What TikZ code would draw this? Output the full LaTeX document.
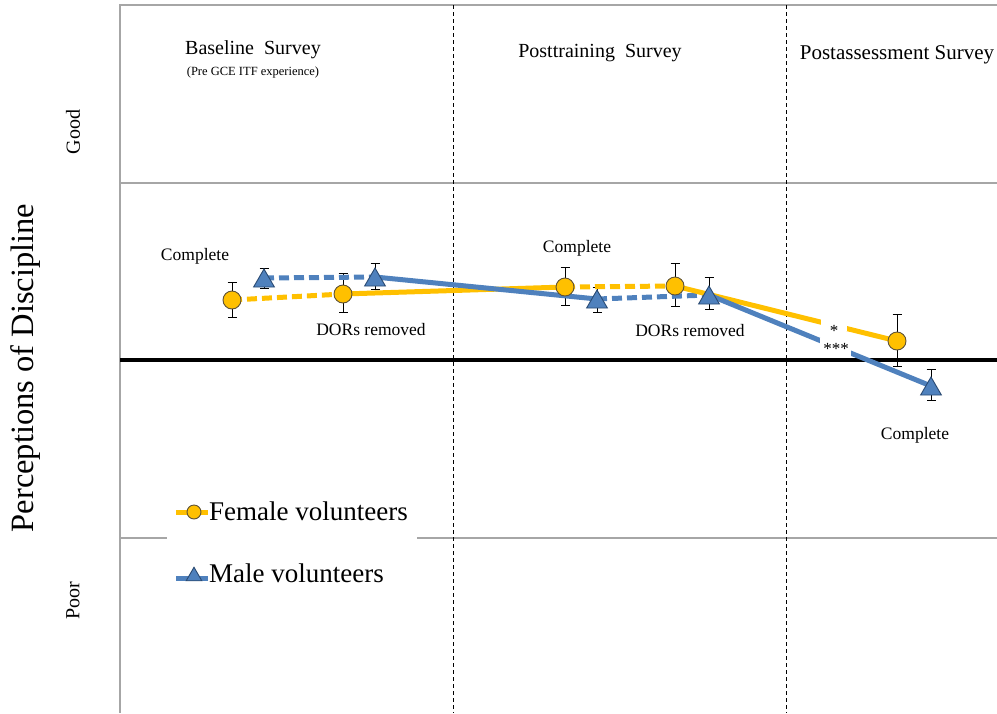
\documentclass[tikz,border=0pt]{standalone}
\usepackage{fontspec}
\setmainfont{Liberation Serif}
\usetikzlibrary{shapes.geometric,arrows.meta}
\definecolor{gold}{HTML}{FFC000}
\definecolor{steel}{HTML}{4F81BD}
\definecolor{navy}{HTML}{2A4A72}
\definecolor{gridgray}{HTML}{A6A6A6}
\definecolor{ringc}{HTML}{5E5236}
\begin{document}
\begin{tikzpicture}[x=1pt,y=-1pt,
  gridline/.style={draw=gridgray, line width=1.5pt},
  sepline/.style={draw=black, line width=1pt, dash pattern=on 4pt off 3pt},
  zeroline/.style={draw=black, line width=3.5pt},
  femline/.style={draw=gold, line width=5pt},
  malline/.style={draw=steel, line width=5pt},
  dsh/.style={dash pattern=on 10pt off 5pt},
  errbar/.style={draw=black, line width=0.9pt, {Bar[width=9pt]}-{Bar[width=9pt]}},
  circmark/.style={circle, fill=gold, draw=ringc, line width=0.9pt, minimum size=18pt, inner sep=0pt},
  trimark/.style={regular polygon, regular polygon sides=3, fill=steel, draw=navy, line width=0.9pt, minimum size=24pt, inner sep=0pt, yshift=-3pt},
  gapnode/.style={fill=white, inner sep=0pt},
  startext/.style={font=\fontsize{17}{17}\selectfont, inner sep=0pt},
  lbl/.style={font=\fontsize{17.5}{20}\selectfont, inner sep=0pt},
  hdr/.style={font=\fontsize{20}{22}\selectfont, inner sep=0pt},
  ylab/.style={rotate=90, font=\fontsize{20}{22}\selectfont, inner sep=0pt},
  leg/.style={font=\fontsize{27}{30}\selectfont, inner sep=0pt, anchor=west}
]
\useasboundingbox (0,0) rectangle (997,713);
% frame and grid
\coordinate (tl) at (120,5); \coordinate (tr) at (997,5); \coordinate (bl) at (120,713);
\coordinate (g1l) at (120,183); \coordinate (g1r) at (997,183);
\coordinate (g2l) at (120,538); \coordinate (g2a) at (167,538);
\coordinate (g2b) at (417,538); \coordinate (g2r) at (997,538);
\coordinate (zl) at (120,360); \coordinate (zr) at (997,360);
\coordinate (s1t) at (453,5); \coordinate (s1b) at (453,713);
\coordinate (s2t) at (786,5); \coordinate (s2b) at (786,713);
\draw[gridline] (bl) -- (tl) -- (tr);
\draw[gridline] (g1l) -- (g1r);
\draw[gridline] (g2l) -- (g2a);
\draw[gridline] (g2b) -- (g2r);
\draw[sepline] (s1t) -- (s1b);
\draw[sepline] (s2t) -- (s2b);
\draw[zeroline] (zl) -- (zr);
% data points
\coordinate (c1) at (232,300); \coordinate (c2) at (343,294); \coordinate (c3) at (565,287);
\coordinate (c4) at (675,286); \coordinate (c5) at (897,341);
\coordinate (t1) at (264,278); \coordinate (t2) at (375,277); \coordinate (t3) at (597,299);
\coordinate (t4) at (709,295); \coordinate (t5) at (931,386);
% error bars
\draw[errbar] ([yshift=18pt]c1) -- ([yshift=-18pt]c1);
\draw[errbar] ([yshift=21pt]c2) -- ([yshift=-19pt]c2);
\draw[errbar] ([yshift=20pt]c3) -- ([yshift=-19pt]c3);
\draw[errbar] ([yshift=23pt]c4) -- ([yshift=-21pt]c4);
\draw[errbar] ([yshift=27pt]c5) -- ([yshift=-26pt]c5);
\draw[errbar] ([yshift=10pt]t1) -- ([yshift=-11pt]t1);
\draw[errbar] ([yshift=14pt]t2) -- ([yshift=-13pt]t2);
\draw[errbar] ([yshift=12pt]t3) -- ([yshift=-14pt]t3);
\draw[errbar] ([yshift=18pt]t4) -- ([yshift=-15pt]t4);
\draw[errbar] ([yshift=17pt]t5) -- ([yshift=-15pt]t5);
% lines
\draw[femline, dsh] (c1) -- (c2);
\draw[femline] (c2) -- (c3);
\draw[femline, dsh] (c3) -- (c4);
\draw[malline, dsh] (t1) -- (t2);
\draw[malline] (t2) -- (t3);
\draw[malline, dsh] (t3) -- (t4);
\draw[femline] (c4) -- node[gapnode, pos=0.716, minimum width=26pt, minimum height=12pt] (gapf) {} (c5);
\draw[malline] (t4) -- node[gapnode, pos=0.57, minimum width=31pt, minimum height=18pt] (gapm) {} (t5);
\node[startext] (sigf) at (834,331) {*};
\node[startext] (sigm) at (836,349) {***};
% markers
\node[circmark] (mc1) at (c1) {};
\node[circmark] (mc2) at (c2) {};
\node[circmark] (mc3) at (c3) {};
\node[circmark] (mc4) at (c4) {};
\node[circmark] (mc5) at (c5) {};
\node[trimark] (mt1) at (t1) {};
\node[trimark] (mt2) at (t2) {};
\node[trimark] (mt3) at (t3) {};
\node[trimark] (mt4) at (t4) {};
\node[trimark] (mt5) at (t5) {};
% annotations
\node[lbl] (comp1) at (195,256) {Complete};
\node[lbl] (dor1) at (371,330) {DORs removed};
\node[lbl] (comp2) at (577,248) {Complete};
\node[lbl] (dor2) at (690,331) {DORs removed};
\node[lbl] (comp3) at (915,435) {Complete};
% headers
\node[hdr] (hbase) at (253,50) {Baseline\ \ Survey};
\node[font=\fontsize{12.5}{14}\selectfont, inner sep=0pt] (hpre) at (253,72) {(Pre GCE ITF experience)};
\node[hdr] (hpost) at (600,53) {Posttraining\ \ Survey};
\node[hdr, font=\fontsize{21}{23}\selectfont] (hass) at (897,55) {Postassessment Survey};
% y labels
\node[ylab] (good) at (73,132) {Good};
\node[ylab] (poor) at (73,601) {Poor};
\node[rotate=90, font=\fontsize{32.5}{35}\selectfont, inner sep=0pt] (yaxis) at (26,368) {Perceptions of Discipline};
% legend
\coordinate (lf1) at (176,512); \coordinate (lf2) at (208,512);
\coordinate (lm1) at (176,578); \coordinate (lm2) at (208,578);
\draw[femline] (lf1) -- (lf2);
\node[circmark, minimum size=14pt] (lfm) at (194,512) {};
\draw[malline] (lm1) -- (lm2);
\node[trimark, minimum size=18pt, yshift=0.75pt] (lmm) at (194,574) {};
\node[leg] (lft) at (209,511) {Female volunteers};
\node[leg] (lmt) at (209,573) {Male volunteers};
\end{tikzpicture}
\end{document}
